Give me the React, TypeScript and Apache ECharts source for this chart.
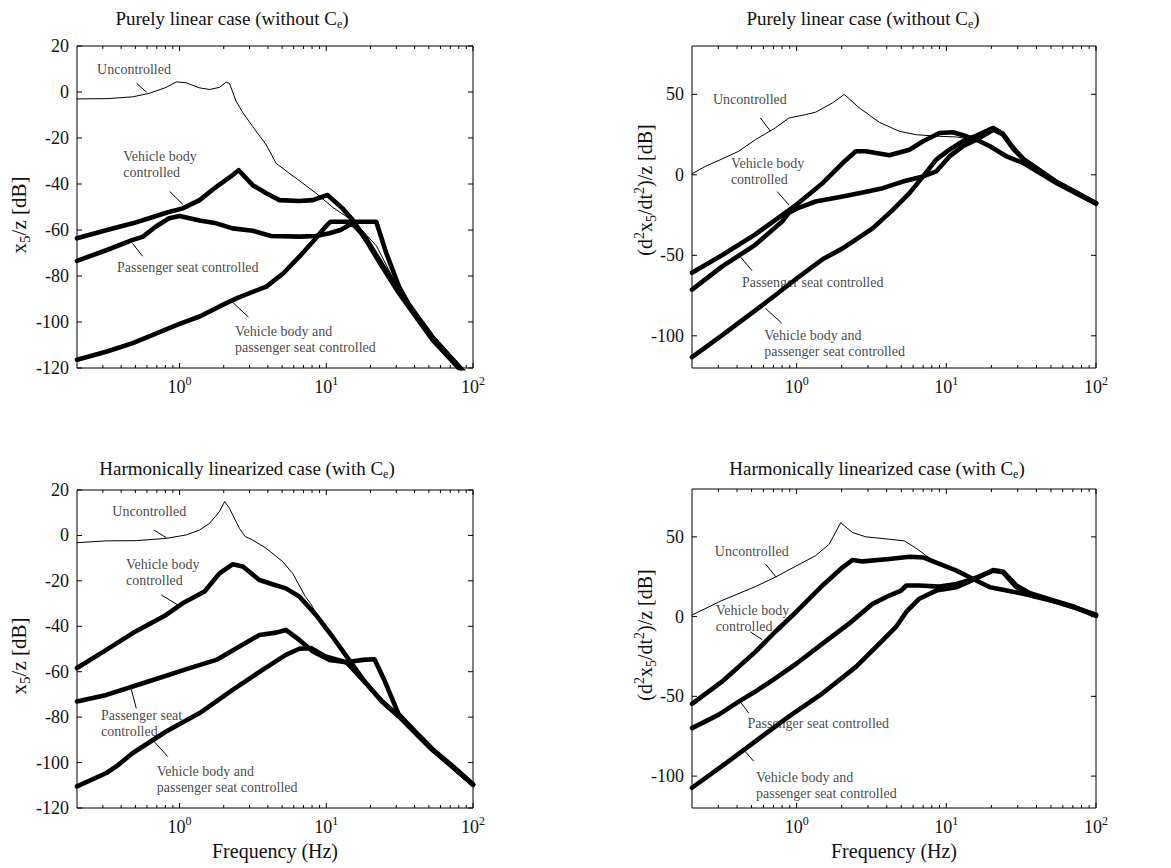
import React, { useEffect, useRef } from 'react';
import * as echarts from 'echarts';

const FONT = "'Liberation Serif', 'Times New Roman', Times, serif";

// ---------- Panel 1: displacement, purely linear ----------
const p1UncF = [0.2, 0.32, 0.48, 0.62, 0.81, 0.95, 1.11, 1.37, 1.6, 1.87, 2.08, 2.19, 2.43, 2.7, 3.15, 3.9, 4.55, 5.5, 6.55, 8.5, 11, 13.6, 15.9, 22, 31.6, 53, 80, 100];
const p1UncDb = [-3, -2.9, -2.1, -0.6, 2, 4.4, 4, 1.8, 1.1, 2, 4.3, 3.7, -4, -9, -15, -23, -31, -35, -38.5, -44, -50, -54, -57, -67, -86.5, -107, -119.5, -127];
const p1VbF = [0.2, 0.32, 0.48, 0.62, 0.81, 1.05, 1.37, 1.78, 2.3, 2.53, 3.15, 3.9, 4.8, 6.55, 8.1, 10.2, 12.9, 15.1, 18.6, 24, 31.3, 40.6, 52.8, 78, 100];
const p1VbDb = [-63.6, -60, -57.1, -54.9, -52.5, -50.6, -47, -41.2, -36.1, -34, -40.5, -44, -47, -47.4, -47, -44.8, -50.6, -55.6, -64.3, -75.9, -87.5, -97.6, -107.7, -119.3, -127];
const p1PsF = [0.2, 0.32, 0.48, 0.56, 0.69, 0.85, 1.0, 1.37, 1.78, 2.3, 3.15, 4.2, 6.55, 8.5, 10.5, 12.5, 15, 18.6, 24, 31.3, 40.6, 52.8, 78, 100];
const p1PsDb = [-73.4, -68.7, -64.3, -63, -58.5, -54.9, -53.9, -55.9, -57.1, -59.3, -60.3, -62.6, -62.9, -62.6, -61.4, -60, -57.1, -63.5, -75, -86.5, -96.5, -106.5, -118.5, -126];
const p1BothF = [0.2, 0.32, 0.48, 1.0, 1.37, 2.08, 2.53, 3.9, 5.1, 6.55, 8.5, 9.9, 10.7, 21.9, 25.7, 31.3, 37, 52.8, 78, 100];
const p1BothDb = [-116.4, -112.8, -109.2, -100.8, -97.6, -91.8, -89.3, -84.6, -78.8, -71.6, -63.6, -58.5, -56.4, -56.4, -70.2, -84.6, -93, -106.5, -118.5, -126];

// ---------- Panel 2: acceleration, purely linear ----------
const p2UncF = [0.2, 0.245, 0.317, 0.41, 0.53, 0.72, 0.89, 1.15, 1.34, 1.74, 2.08, 2.62, 3.57, 4.86, 6.3, 9.0, 11.7, 15.1, 19.6, 25.3, 32.7, 54.7, 100];
const p2UncDb = [0.6, 5.2, 9.8, 14.6, 21.8, 29.1, 35.3, 37.4, 38.9, 44.7, 49.9, 41.6, 32.6, 27, 24.9, 23.9, 23.5, 21.8, 17.7, 11.4, 7.3, -5.2, -18];
const p2VbF = [0.2, 0.317, 0.53, 0.89, 1.0, 1.49, 2.03, 2.49, 2.9, 4.16, 5.67, 7.0, 9.0, 11.1, 13.6, 15.9, 19.6, 25.3, 32.7, 54.7, 100];
const p2VbDb = [-60.9, -50, -37, -22, -18.5, -5.2, 7.3, 14.6, 14.6, 12.1, 15.6, 20.8, 26, 26.4, 23.9, 21.8, 17.7, 11.4, 7.3, -5.2, -18];
const p2PsF = [0.2, 0.317, 0.53, 0.8, 0.89, 1.0, 1.34, 2.03, 2.76, 3.76, 5.12, 7.0, 8.56, 10.5, 12.9, 15.9, 20.6, 23.9, 28.1, 32.7, 54.7, 100];
const p2PsDb = [-71.3, -57, -43.5, -29, -23.5, -21, -16.6, -13.5, -11, -8.3, -4.2, -1, 2.1, 11.4, 17.7, 21.8, 28, 25, 16, 9.8, -4.5, -17.7];
const p2BothF = [0.2, 0.317, 0.53, 0.72, 1.0, 1.49, 2.03, 3.22, 4.39, 5.67, 7.0, 8.56, 10.5, 12.9, 15.9, 20.6, 23.9, 28.1, 32.7, 54.7, 100];
const p2BothDb = [-113.3, -99.8, -84.2, -74.8, -64.4, -52.5, -45.7, -33.3, -21.8, -11.4, -1, 9.4, 15.6, 20.8, 24.3, 29.1, 25.5, 16.6, 9.8, -4.5, -17.7];

// ---------- Panel 3: displacement, harmonically linearized ----------
const p3UncF = [0.2, 0.317, 0.507, 0.81, 1.11, 1.37, 1.6, 1.87, 2.03, 2.19, 2.56, 2.8, 3.15, 3.9, 5.04, 5.9, 7.2, 7.8, 8.5, 11, 14.3, 18.6, 24, 31.3, 40.6, 52.8, 72, 100];
const p3UncDb = [-3.2, -2.4, -2.3, -1.3, 0.2, 2.4, 5.3, 10.5, 14.9, 11.9, 3.1, -0.5, -2, -5.7, -11.5, -16.7, -26.9, -29.9, -34, -44, -54.3, -64.5, -72.6, -79.2, -86.5, -94, -101.3, -109.4];
const p3VbF = [0.2, 0.317, 0.48, 0.81, 1.05, 1.48, 1.87, 2.3, 2.7, 3.5, 4.3, 5.3, 6.55, 8.5, 11, 14.3, 18.6, 24, 31.3, 40.6, 52.8, 72, 100];
const p3VbDb = [-58.4, -50.4, -43, -35, -29.9, -24.7, -16.7, -12.7, -13.7, -19.6, -21.5, -23.3, -26.9, -35, -44.5, -54.8, -65, -73.1, -79.7, -87, -94.4, -101.7, -109.8];
const p3PsF = [0.2, 0.317, 0.48, 0.81, 1.17, 1.78, 2.56, 3.5, 4.55, 5.3, 6.55, 8.1, 10.5, 13.7, 18.6, 24, 31.3, 40.6, 52.8, 72, 100];
const p3PsDb = [-73.1, -70.2, -66.5, -61.8, -58.4, -54.8, -48.9, -43.8, -42.8, -41.6, -46, -51.1, -54.8, -55.8, -65, -73.1, -79.7, -87, -94.4, -101.7, -109.8];
const p3BothF = [0.2, 0.317, 0.371, 0.48, 0.81, 1.37, 2.3, 3.68, 5.3, 6.55, 7.85, 9.9, 13.6, 17.8, 21.3, 25, 31, 40.6, 52.8, 72, 100];
const p3BothDb = [-110.5, -104.6, -101.7, -95.8, -86.3, -78.2, -68, -59.2, -52.6, -49.9, -49.6, -53.3, -55.8, -54.8, -54.5, -64, -78.5, -86.5, -94, -101.3, -109.5];

// ---------- Panel 4: acceleration, harmonically linearized ----------
const p4UncF = [0.2, 0.317, 0.53, 0.72, 1.0, 1.34, 1.65, 1.97, 2.36, 2.9, 4.16, 5.24, 6.28, 7.33, 9.0, 11.7, 15.1, 19.6, 25.3, 32.7, 54.7, 70.8, 100];
const p4UncDb = [1, 10.1, 18.8, 24.7, 31.9, 38.2, 45.4, 58.9, 52.7, 50, 48.5, 47.5, 42.9, 38.2, 33, 28.8, 23.6, 18.4, 16.3, 14.3, 9.1, 5.9, 1.2];
const p4VbF = [0.2, 0.317, 0.53, 0.72, 1.0, 1.49, 2.03, 2.36, 2.76, 4.16, 5.67, 7.0, 9.0, 11.7, 15.1, 19.6, 25.3, 32.7, 54.7, 70.8, 100];
const p4VbDb = [-54.7, -40.8, -22.1, -9.5, 3.2, 19.5, 30.9, 35.5, 34.6, 36.1, 37.5, 37.1, 33, 28.8, 23.6, 18.4, 16.3, 14.3, 9.1, 5.9, 1.2];
const p4PsF = [0.2, 0.3, 0.41, 0.53, 0.72, 1.0, 1.49, 2.24, 3.22, 4.16, 4.99, 5.4, 6.6, 9.0, 11.7, 15.1, 20.6, 23.9, 29.4, 36.2, 54.7, 70.8, 100];
const p4PsDb = [-69.9, -61.6, -53.3, -47, -38.7, -29.4, -16.9, -4.4, 8, 13.2, 16.3, 19.5, 19.5, 18.8, 20.5, 23.6, 28.8, 27.8, 18.4, 14.3, 9.1, 6, 0.5];
const p4BothF = [0.2, 0.317, 0.53, 0.89, 1.49, 2.49, 3.57, 4.61, 5.4, 6.6, 8.56, 11.7, 15.1, 20.6, 23.9, 29.4, 36.2, 54.7, 70.8, 100];
const p4BothDb = [-107.3, -93.8, -78.2, -62.6, -48.1, -31.5, -16.9, -6.5, 2.9, 11.2, 16.3, 18.4, 23, 29.2, 28.3, 19.5, 14.7, 9.5, 6.3, 0.8];

// ---------- Axis ticks ----------
const xMajorExponents = [0, 1, 2];
const minorMultipliers = [2, 3, 4, 5, 6, 7, 8, 9];
const minorDecades = [0.1, 1, 10];
const dispTicks = [-120, -100, -80, -60, -40, -20, 0, 20];
const accTicks = [-100, -50, 0, 50];

// ---------- Texts ----------
const labelsA = ['Uncontrolled', 'Vehicle body\ncontrolled', 'Passenger seat controlled', 'Vehicle body and\npassenger seat controlled'];
const labelsB = ['Uncontrolled', 'Vehicle body\ncontrolled', 'Passenger seat\ncontrolled', 'Vehicle body and\npassenger seat controlled'];
const titleLinear = 'Purely linear case (without C{sub|e})';
const titleHarmonic = 'Harmonically linearized case (with C{sub|e})';
const yNameDisp = 'x{sub|5}/z [dB]';
const yNameAcc = '(d{sup|2}x{sub|5}/dt{sup|2})/z [dB]';
const xName = 'Frequency (Hz)';

const X_MIN = Math.log10(0.2);
const X_MAX = 2;

const minorTickValues: number[] = [];
minorDecades.forEach((d) => minorMultipliers.forEach((m) => {
  const v = Math.log10(d * m);
  if (v > X_MIN + 1e-6 && v < X_MAX - 1e-6) minorTickValues.push(v);
}));

const toXY = (f: number[], db: number[]) => f.map((v, i) => [Math.log10(v), db[i]]);

type Panel = {
  grid: { left: number; top: number; width: number; height: number };
  yMin: number; yMax: number; yTicks: number[];
  yName: string; yNameX: number; yNameY: number; yNameSize: number;
  xName: string;
  title: string; titleX: number; titleY: number;
  curves: { f: number[]; db: number[]; w: number }[];
  labels: string[];
  labelPos: [number, number][];
  leaders: [[number, number], [number, number]][];
};

const THICK = 4.6;
const THIN = 1;
const MAJOR_LEN = 5;
const MINOR_LEN = 3;

const panels: Panel[] = [
  {
    grid: { left: 77, top: 46, width: 396, height: 322 },
    yMin: -120, yMax: 20, yTicks: dispTicks,
    yName: yNameDisp, yNameX: 19, yNameY: 215, yNameSize: 21, xName: '',
    title: titleLinear, titleX: 232, titleY: 6,
    curves: [
      { f: p1UncF, db: p1UncDb, w: THIN },
      { f: p1VbF, db: p1VbDb, w: THICK },
      { f: p1PsF, db: p1PsDb, w: THICK },
      { f: p1BothF, db: p1BothDb, w: THICK },
    ],
    labels: labelsA,
    labelPos: [[0.272, 9.9], [0.41, -31.6], [0.372, -76.2], [2.37, -107.5]],
    leaders: [[[0.509, 3.8], [0.596, -0.1]], [[0.855, -43.2], [1.05, -48.8]], [[0.478, -65.8], [0.56, -71.4]], [[2.3, -91.4], [2.95, -97.9]]],
  },
  {
    grid: { left: 692, top: 46, width: 404, height: 322 },
    yMin: -120, yMax: 80, yTicks: accTicks,
    yName: yNameAcc, yNameX: 645, yNameY: 190, yNameSize: 20, xName: '',
    title: titleLinear, titleX: 863, titleY: 6,
    curves: [
      { f: p2UncF, db: p2UncDb, w: THIN },
      { f: p2VbF, db: p2VbDb, w: THICK },
      { f: p2PsF, db: p2PsDb, w: THICK },
      { f: p2BothF, db: p2BothDb, w: THICK },
    ],
    labels: labelsA,
    labelPos: [[0.274, 46.7], [0.361, 2.3], [0.428, -67.1], [0.603, -104.6]],
    leaders: [[[0.573, 35.3], [0.669, 27.0]], [[0.741, -10.4], [0.888, -18.7]], [[0.421, -50.9], [0.504, -59.6]], [[0.619, -83.0], [0.793, -92.0]]],
  },
  {
    grid: { left: 77, top: 490, width: 396, height: 318 },
    yMin: -120, yMax: 20, yTicks: dispTicks,
    yName: yNameDisp, yNameX: 19, yNameY: 656, yNameSize: 21, xName,
    title: titleHarmonic, titleX: 247, titleY: 456,
    curves: [
      { f: p3UncF, db: p3UncDb, w: THIN },
      { f: p3VbF, db: p3VbDb, w: THICK },
      { f: p3PsF, db: p3PsDb, w: THICK },
      { f: p3BothF, db: p3BothDb, w: THICK },
    ],
    labels: labelsB,
    labelPos: [[0.3455, 10.4], [0.428, -16.3], [0.289, -82.6], [0.694, -107.3]],
    leaders: [[[0.668, 2.4], [0.812, -1.0]], [[0.75, -26.2], [0.974, -30.6]], [[0.469, -67.8], [0.507, -76.1]], [[0.641, -89.3], [0.832, -97.4]]],
  },
  {
    grid: { left: 692, top: 489, width: 404, height: 319 },
    yMin: -120, yMax: 80, yTicks: accTicks,
    yName: yNameAcc, yNameX: 645, yNameY: 635, yNameSize: 20, xName,
    title: titleHarmonic, titleX: 877, titleY: 456,
    curves: [
      { f: p4UncF, db: p4UncDb, w: THIN },
      { f: p4VbF, db: p4VbDb, w: THICK },
      { f: p4PsF, db: p4PsDb, w: THICK },
      { f: p4BothF, db: p4BothDb, w: THICK },
    ],
    labels: labelsA,
    labelPos: [[0.282, 40.9], [0.286, -1.1], [0.466, -67.2], [0.531, -105.7]],
    leaders: [[[0.619, 33.0], [0.73, 24.7]], [[0.491, -9.6], [0.588, -14.4]], [[0.41, -52.2], [0.479, -60.5]], [[0.431, -82.3], [0.517, -90.7]]],
  },
];

const TEXT = '#111';
const richScript = {
  sub: { fontFamily: FONT, fontSize: 12, verticalAlign: 'bottom', lineHeight: 12, color: TEXT },
  sup: { fontFamily: FONT, fontSize: 12, verticalAlign: 'top', lineHeight: 12, color: TEXT },
};
const richScriptFor = (size: number) => ({
  sub: { fontFamily: FONT, fontSize: Math.round(size * 0.7), verticalAlign: 'bottom', lineHeight: Math.round(size * 0.7), fill: TEXT, color: TEXT },
  sup: { fontFamily: FONT, fontSize: Math.round(size * 0.7), verticalAlign: 'top', lineHeight: Math.round(size * 0.7), fill: TEXT, color: TEXT },
});

function buildOption() {
  const grids: any[] = [];
  const xAxes: any[] = [];
  const yAxes: any[] = [];
  const series: any[] = [];
  const titles: any[] = [];
  const graphics: any[] = [];

  panels.forEach((p, i) => {
    grids.push({ ...p.grid, show: true, borderColor: '#000', borderWidth: 1, backgroundColor: 'transparent', containLabel: false });

    xAxes.push({
      type: 'value', gridIndex: i, min: X_MIN, max: X_MAX, position: 'bottom',
      axisLine: { show: false, onZero: false }, splitLine: { show: false },
      axisTick: { show: false },
      axisLabel: {
        show: true, customValues: xMajorExponents, margin: 7,
        formatter: (v: number) => `10{sup|${Math.round(v)}}`,
        fontFamily: FONT, fontSize: 18, color: TEXT, lineHeight: 24, rich: richScript,
      },
      name: p.xName, nameLocation: 'middle', nameGap: 33,
      nameTextStyle: { fontFamily: FONT, fontSize: 20, color: TEXT },
    });
    yAxes.push({
      type: 'value', gridIndex: i, min: p.yMin, max: p.yMax, position: 'left',
      axisLine: { show: false, onZero: false }, splitLine: { show: false },
      axisTick: { show: false },
      axisLabel: { show: true, customValues: p.yTicks, margin: 8, fontFamily: FONT, fontSize: 18, color: TEXT },
    });

    const xi = i;
    const yi = i;
    p.curves.forEach((c, k) => {
      series.push({
        type: 'line', name: `p${i}c${k}`, xAxisIndex: xi, yAxisIndex: yi,
        data: toXY(c.f, c.db), showSymbol: false, symbol: 'none', silent: true,
        lineStyle: { color: '#000', width: c.w, join: 'round', cap: 'round' },
        z: c.w > 2 ? 3 : 2, clip: true,
      });
    });

    // Tick marks (inside, mirrored on all four sides), drawn through the axes' scales
    const xTickData = [
      ...xMajorExponents.map((v) => [v, p.yMin, MAJOR_LEN]),
      ...minorTickValues.map((v) => [v, p.yMin, MINOR_LEN]),
    ];
    const yTickData = p.yTicks.map((v) => [X_MIN, v, MAJOR_LEN]);
    const yMin = p.yMin;
    const yMax = p.yMax;
    series.push({
      type: 'custom', name: `p${i}xticks`, xAxisIndex: xi, yAxisIndex: yi, silent: true, clip: false, z: 4,
      data: xTickData,
      renderItem: (params: any, api: any) => {
        const v = api.value(0);
        const len = api.value(2);
        const b = api.coord([v, yMin]);
        const t = api.coord([v, yMax]);
        const st = { stroke: '#000', lineWidth: 1 };
        return {
          type: 'group',
          children: [
            { type: 'line', shape: { x1: b[0], y1: b[1], x2: b[0], y2: b[1] - len }, style: st },
            { type: 'line', shape: { x1: t[0], y1: t[1], x2: t[0], y2: t[1] + len }, style: st },
          ],
        };
      },
    });
    series.push({
      type: 'custom', name: `p${i}yticks`, xAxisIndex: xi, yAxisIndex: yi, silent: true, clip: false, z: 4,
      data: yTickData,
      renderItem: (params: any, api: any) => {
        const v = api.value(1);
        const len = api.value(2);
        const l = api.coord([X_MIN, v]);
        const r = api.coord([X_MAX, v]);
        const st = { stroke: '#000', lineWidth: 1 };
        return {
          type: 'group',
          children: [
            { type: 'line', shape: { x1: l[0], y1: l[1], x2: l[0] + len, y2: l[1] }, style: st },
            { type: 'line', shape: { x1: r[0], y1: r[1], x2: r[0] - len, y2: r[1] }, style: st },
          ],
        };
      },
    });

    series.push({
      type: 'scatter', name: `p${i}labels`, xAxisIndex: xi, yAxisIndex: yi, silent: true,
      symbolSize: 1, itemStyle: { color: 'rgba(0,0,0,0)' }, z: 5,
      data: p.labels.map((t, k) => ({
        value: [Math.log10(p.labelPos[k][0]), p.labelPos[k][1]],
        label: { formatter: t },
      })),
      label: {
        show: true, position: 'right', distance: 0, align: 'left',
        fontFamily: FONT, fontSize: 14, color: TEXT, lineHeight: 16,
      },
      markLine: {
        silent: true, symbol: ['none', 'none'], label: { show: false },
        lineStyle: { color: '#000', width: 1, type: 'solid' },
        emphasis: { disabled: true },
        data: p.leaders.map(([a, b]) => [
          { coord: [Math.log10(a[0]), a[1]] },
          { coord: [Math.log10(b[0]), b[1]] },
        ]),
      },
    });

    titles.push({
      text: p.title, left: p.titleX, top: p.titleY, textAlign: 'center', padding: 0,
      textStyle: { fontFamily: FONT, fontSize: 19, fontWeight: 'normal', color: TEXT, lineHeight: 24, rich: richScript },
    });

    graphics.push({
      type: 'text', x: p.yNameX, y: p.yNameY, rotation: Math.PI / 2, silent: true,
      style: {
        text: p.yName, fontFamily: FONT, fontSize: p.yNameSize, fill: TEXT,
        align: 'center', verticalAlign: 'middle', lineHeight: Math.round(p.yNameSize * 1.3),
        rich: richScriptFor(p.yNameSize),
      },
    });
  });

  return {
    animation: false,
    backgroundColor: '#fff',
    title: titles,
    grid: grids,
    xAxis: xAxes,
    yAxis: yAxes,
    graphic: graphics,
    series,
  };
}

export default function App() {
  const ref = useRef<HTMLDivElement>(null);
  useEffect(() => {
    if (!ref.current) return;
    const chart = echarts.init(ref.current, null, { renderer: 'svg' });
    chart.setOption(buildOption() as any);
    return () => chart.dispose();
  }, []);
  return (
    <div
      ref={ref}
      style={{ position: 'fixed', left: 0, top: 0, width: 1171, height: 868, background: '#fff' }}
    />
  );
}
